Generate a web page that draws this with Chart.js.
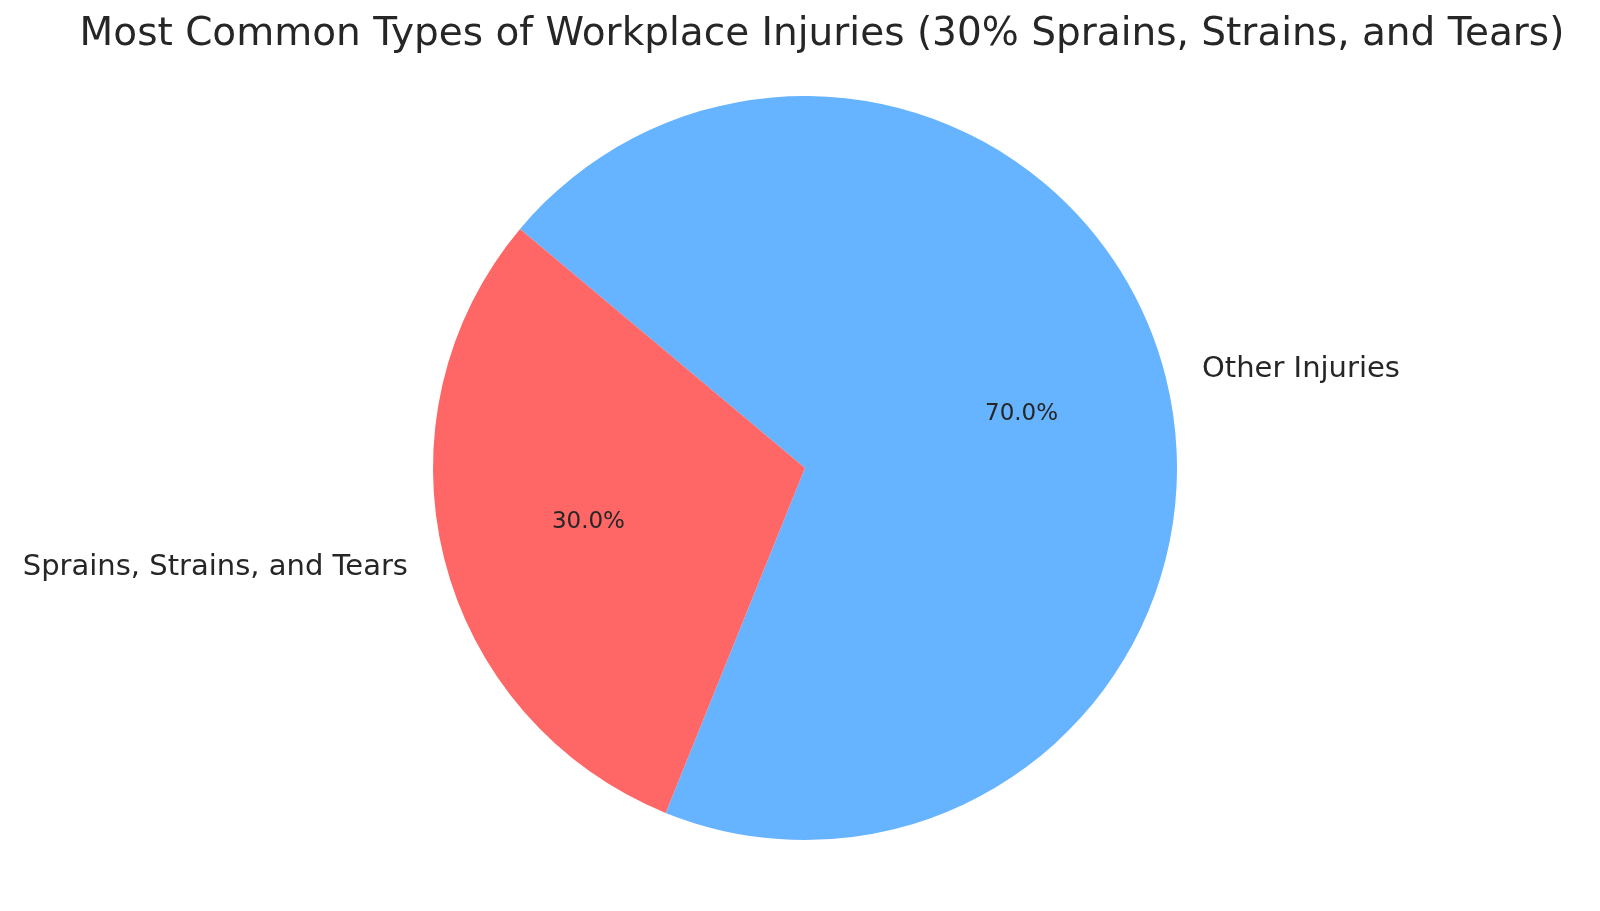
<!DOCTYPE html>
<html>
<head>
<meta charset="utf-8">
<script src="https://cdn.jsdelivr.net/npm/chart.js@4"></script>
<style>html,body{margin:0;padding:0;background:#fff;}</style>
</head>
<body>
<canvas id="myChart" width="1600" height="911"></canvas>
<script>
// order is clockwise from the top-left edge
const categories = ['Other Injuries', 'Sprains, Strains, and Tears'];
const shares = [70, 30];
const colors = ['#66b3ff', '#ff6666'];
const chartTitle = 'Most Common Types of Workplace Injuries (30% Sprains, Strains, and Tears)';

const pieText = {
	id: 'pieText',
	afterDraw(chart) {
		const ctx = chart.ctx;
		ctx.save();
		ctx.fillStyle = '#262626';
		ctx.textBaseline = 'middle';
		ctx.font = '39px "DejaVu Sans"';
		ctx.textAlign = 'center';
		ctx.fillText(chartTitle, 822, 35);

		const total = shares.reduce((a, b) => a + b, 0);
		chart.getDatasetMeta(0).data.forEach((arc, i) => {
			const mid = (arc.startAngle + arc.endAngle) / 2;
			const r = arc.outerRadius;
			const cos = Math.cos(mid), sin = Math.sin(mid);
			ctx.font = '23px "DejaVu Sans"';
			ctx.textAlign = 'center';
			ctx.fillText((shares[i] / total * 100).toFixed(1) + '%', arc.x + cos * r * 0.6, arc.y + sin * r * 0.6);
			ctx.font = '29px "DejaVu Sans"';
			ctx.textAlign = cos >= 0 ? 'left' : 'right';
			ctx.fillText(categories[i], arc.x + cos * r * 1.1, arc.y + sin * r * 1.1);
		});
		ctx.restore();
	}
};

new Chart(document.getElementById('myChart'), {
	type: 'pie',
	data: {
		labels: categories,
		datasets: [{
			data: shares,
			backgroundColor: colors,
			borderWidth: 0
		}]
	},
	options: {
		responsive: false,
		devicePixelRatio: 1,
		animation: false,
		rotation: -50,
		layout: { padding: { top: 96, bottom: 71, left: 433, right: 423 } },
		plugins: {
			legend: { display: false },
			tooltip: { enabled: false }
		}
	},
	plugins: [pieText]
});
</script>
</body>
</html>
